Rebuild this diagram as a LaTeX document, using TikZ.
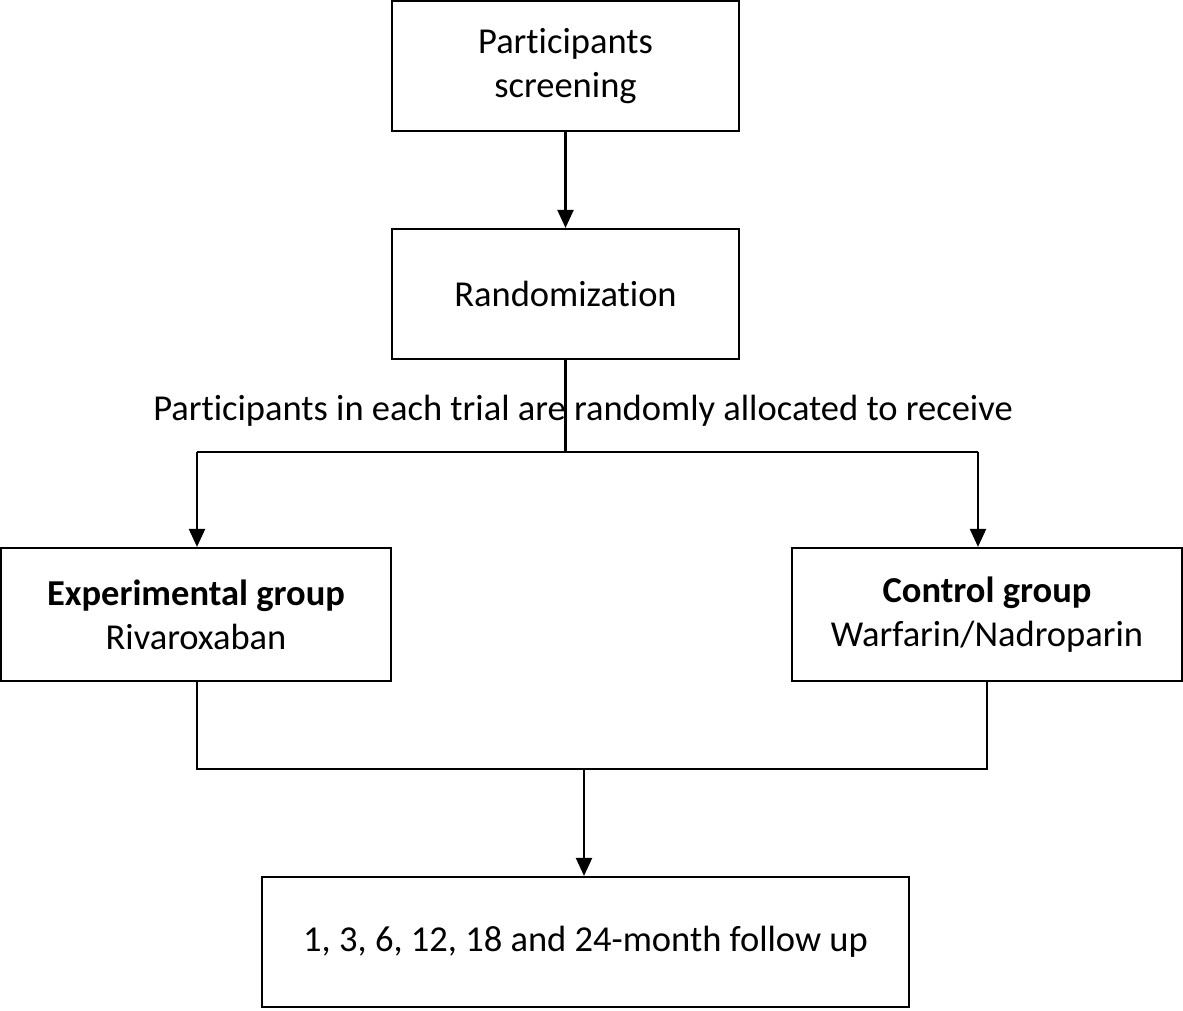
\documentclass[tikz,border=0pt]{standalone}
\usepackage{fontspec}
\setmainfont{Carlito}[Ligatures=CommonOff]
\usetikzlibrary{arrows.meta}
\begin{document}
\begin{tikzpicture}[x=1pt,y=-1pt,
  box/.style={draw,line width=2.2pt,inner sep=0pt,align=center,font=\fontsize{36.5}{44}\selectfont},
  conn/.style={line width=2.2pt},
  arr/.style={conn,-{Triangle[width=16pt,length=18pt]}},
  lbl/.style={inner sep=0pt,font=\fontsize{36.5}{44}\selectfont}]
\useasboundingbox (0,0) rectangle (1183,1010);
\node[box,minimum width=347pt,minimum height=130pt] (b1) at (565.5,66) {Participants\\screening};
\node[box,minimum width=347pt,minimum height=130pt] (b2) at (565.5,294) {Randomization};
\node[lbl] (t) at (583,411) {Participants in each trial are randomly allocated to receive};
\node[box,minimum width=390pt,minimum height=133pt] (b3) at (196,614.5) {\textbf{Experimental group}\\Rivaroxaban};
\node[box,minimum width=390pt,minimum height=133pt] (b4) at (987,614.5) {\textbf{Control group}\\Warfarin/Nadroparin};
\node[box,minimum width=647pt,minimum height=130pt] (b5) at (585.5,942) {1, 3, 6, 12, 18 and 24-month follow up};
\coordinate (sl) at (197,452);
\coordinate (sr) at (978,452);
\coordinate (ml) at (197,769);
\coordinate (mr) at (987,769);
\coordinate (mm) at (584,769);
\draw[arr] (b1.south) -- (b2.north);
\draw[conn] (b2.south) -- (b2.south |- sl);
\draw[conn] (sl) -- (sr);
\draw[arr] (sl) -- (sl |- b3.north);
\draw[arr] (sr) -- (sr |- b4.north);
\draw[conn] (sl |- b3.south) -- (ml) -- (mr) -- (mr |- b4.south);
\draw[arr] (mm) -- (mm |- b5.north);
\end{tikzpicture}
\end{document}
